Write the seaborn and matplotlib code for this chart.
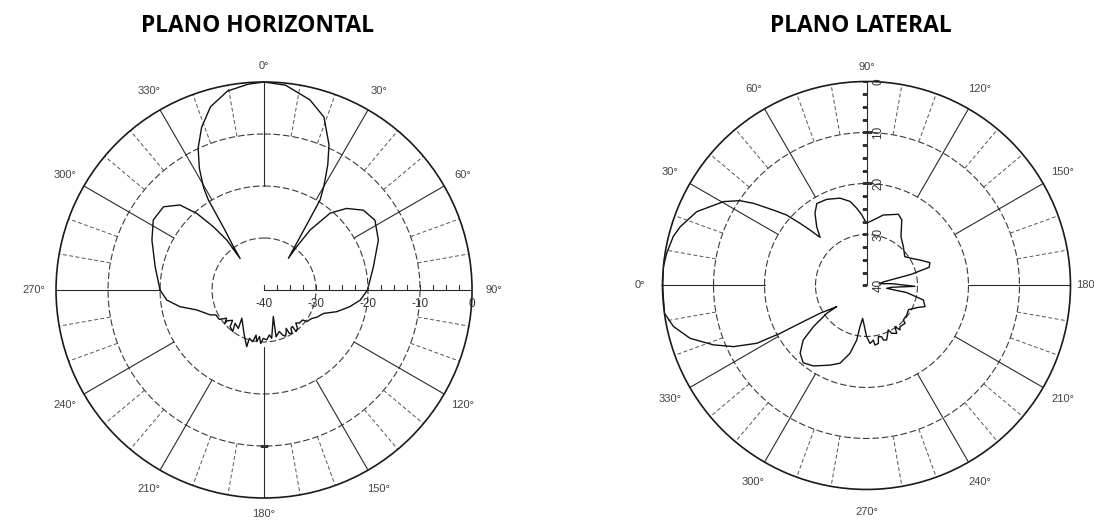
import numpy as np
import pandas as pd
import seaborn as sns
import matplotlib.pyplot as plt

# Horizontal plane: angle in degrees (0 at top, clockwise), level in dB
h_angle = [-90, -78, -66, -57.7, -50.4, -44.7, -41.3, -38.7, -36.7, -37.2,
           -35, -33, -31.7, -30.6, -28, -24.9, -21, -16.3, -10.4, -4.4, 0,
           6, 13.6, 19.1, 24.1, 27, 30, 31.9, 33.5, 37.5,
           37, 37.5, 40.7, 45.3, 51.2, 57.8, 66.4, 78, 90,
           96, 101, 106.6, 111.5, 117.4, 120.7, 126.6, 127.8, 133.3, 136, 139, 142.5,
           142, 145, 147, 149.7, 150, 152, 155, 157.5, 159.8, 165.6, 160.7, 171, 173.2, 177,
           180.8, 183.6, 185.5, 188.1, 190, 192.4, 196.9, 197, 204.8, 218.2, 213.8, 221,
           217, 222.8, 226, 230.1, 229.4, 233, 236.7, 242.5, 245.2, 253.5, 258.8, 264.1, 270]
h_db = [-20, -18.6, -16.4, -14.8, -14.9, -17, -20.4, -24.4, -28, -32.4,
        -29.5, -25.9, -19.6, -17.2, -13.5, -9.9, -6.5, -3.3, -1.1, -0.3, 0,
        -0.4, -2.4, -4.8, -9.4, -13, -17, -19.6, -26, -32.3,
        -29.6, -25.5, -20.5, -17.7, -15.5, -14.8, -16, -18.5, -20.1,
        -21.4, -23.2, -25.4, -27.7, -28.6, -29.3, -29.8, -30.6, -30.7, -31.2, -30.2, -29.9,
        -31.1, -31.0, -30.1, -30.3, -31.5, -30.9, -30.2, -30.6, -31.5, -30.7, -34.6, -30.6, -31.3, -30.4,
        -30.7, -29.7, -31.0, -30.0, -31.2, -29.8, -30.3, -28.6, -30.8, -33.1, -31.1, -31.5,
        -30.0, -30.4, -31.6, -30.8, -30.0, -31.0, -29.7, -29.6, -28.6, -26.5, -23.5, -21.2, -20]

# Lateral plane: angle in degrees (0 at left, clockwise), level in dB
l_angle = [-35.4, -30.9, -29.6, -29, -27.8, -24.7, -21.2, -16.7, -12, -7.8, 0,
           5.3, 9.1, 14.2, 17.5, 23.5, 30.4, 33.8, 36, 39, 41.4, 43.1, 44.5, 46,
           49.7, 54.5, 58.8, 65.2, 73.1, 78.9, 82.7, 86.1, 90,
           95.9, 103.4, 114.1, 118.3, 125.3, 133.5, 143, 150, 154.5, 160.2, 163.8,
           166, 168, 172, 176, 181, 184, 188, 190, 194.3, 199.9, 203, 210, 216.3,
           223.1, 224.5, 230.9, 233, 235.3, 237.8, 242.2, 243.9, 249.7, 252.8,
           253.5, 257, 258.4, 261.9, 262.9, 266.5, 270, 273, 276.7,
           279, 280.2, 283.7, 288.8, 294.7, 303.4, 309.3, 314.4, 319.2, 322.2, 325, 324.6]
l_db = [-32.8, -29.4, -25, -20.6, -15.7, -11.3, -7.8, -3.9, -1.3, 0, 0,
        0, -0.3, -0.9, -1.7, -3.7, -7.5, -10.1, -12.6, -16.5, -19.1, -22.2, -24.5, -26.9,
        -24.9, -22.6, -21.2, -21.4, -22.1, -23.2, -24.7, -26.1, -27.8,
        -27.1, -25.8, -24.7, -25.4, -28.3, -29.5, -30.6, -29.5, -28.4, -26.8, -27.2,
        -31, -36.5, -37.5, -35, -30.5, -35, -36, -32, -28.5, -27.8, -29, -30.5, -30.2,
        -30.1, -29.4, -29.6, -29.1, -30.2, -28.9, -29.4, -30.3, -28.6, -28.8,
        -29.5, -29.7, -28.4, -28.2, -29.2, -28.6, -30, -32, -33.5,
        -31.8, -29.1, -26.3, -23.9, -22.8, -21.1, -20.4, -21.4, -23.6, -26.8, -30.5, -32.8]

h_ticks = [0, 30, 60, 90, 120, 150, 180, 210, 240, 270, 300, 330]
h_tick_labels = ['0°', '30°', '60°', '90°', '120°', '150°', '180°', '210°', '240°', '270°', '300°', '330°']
l_ticks = [0, 30, 60, 90, 120, 150, 180, 210, 240, 270, 300, 330]
l_tick_labels = ['0°', '30°', '60°', '90°', '120°', '150°', '180', '210°', '240°', '270°', '300°', '330°']
rings = [-30, -20, -10]
h_scale = ['-40', '-30', '-20', '-10', '0']
l_scale = ['0', '10', '20', '30', '40']

sns.set_theme(style='white')
plt.rcParams['font.family'] = ['Liberation Sans', 'DejaVu Sans']

fig = plt.figure(figsize=(10.94, 5.29), dpi=100)
ax_h = fig.add_axes([0.0512, 0.0586, 0.3803, 0.7864], projection='polar')
ax_l = fig.add_axes([0.6056, 0.0747, 0.3729, 0.7713], projection='polar')


def base_grid(ax, zero, full_lines, inner_lines):
    ax.set_theta_zero_location(zero)
    ax.set_theta_direction(-1)
    ax.grid(False)
    ax.set_facecolor('white')
    th = np.radians(np.arange(0, 361))
    for r in rings:
        ax.plot(th, np.full(th.shape, r), color='#3a3a3a', lw=0.8, ls=(0, (6, 2.5)))
    for a in range(0, 360, 10):
        if a % 30:
            ax.plot(np.radians([a, a]), [-10, 0], color='#555555', lw=0.7, ls=(0, (4, 2.5)))
    for a in full_lines:
        ax.plot(np.radians([a, a]), [-20, 0], color='#2a2a2a', lw=0.8)
    for a, r0 in inner_lines:
        ax.plot(np.radians([a, a]), [r0, 0], color='#2a2a2a', lw=0.8)


base_grid(ax_h, 'N', [0, 30, 60, 120, 150, 210, 240, 270, 300, 330], [(180, -29), (90, -40)])
base_grid(ax_l, 'W', [0, 30, 60, 120, 150, 180, 210, 240, 300, 330], [(90, -40)])

df_h = pd.DataFrame({'theta': np.radians(h_angle), 'db': h_db})
df_l = pd.DataFrame({'theta': np.radians(l_angle), 'db': l_db})
sns.lineplot(data=df_h, x='theta', y='db', sort=False, estimator=None, ax=ax_h, color='#111111', lw=1.0)
sns.lineplot(data=df_l, x='theta', y='db', sort=False, estimator=None, ax=ax_l, color='#111111', lw=1.0)

for ax in (ax_h, ax_l):
    ax.set_ylim(-40, 0)
    ax.set_xticks([])
    ax.set_yticks([])
    ax.set_xlabel('')
    ax.set_ylabel('')
    ax.spines['polar'].set_color('#1a1a1a')
    ax.spines['polar'].set_linewidth(1.2)

# angle labels
for a, lab in zip(h_ticks, h_tick_labels):
    r = 3.0 if a in (0, 180) else 4.2
    ax_h.text(np.radians(a), r, lab, ha='center', va='center', fontsize=8, color='#444444')
for a, lab in zip(l_ticks, l_tick_labels):
    r = 2.9 if a in (90, 180) else 4.4
    ax_l.text(np.radians(a), r, lab, ha='center', va='center', fontsize=8, color='#444444')

# level scale on the horizontal plane (along 90 deg)
ax_h.plot(np.full(17, np.pi / 2), np.arange(-40, 0.1, 2.5), ls='none', marker=2, ms=3.5, mew=0.8,
          color='#333333')
ax_h.plot([np.pi, np.pi], [-10, -10], ls='none', marker='_', ms=6, mew=0.8, color='#333333')
for i, lab in enumerate(h_scale):
    ax_h.annotate(lab, xy=(np.pi / 2, -40 + 10 * i), xytext=(0, -14), textcoords='offset pixels',
                  ha='center', va='center', fontsize=8.5, color='#333333')

# level scale on the lateral plane (along 90 deg, rotated text)
ax_l.plot(np.full(17, np.pi / 2), np.arange(-40, 0.1, 2.5), ls='none', marker=0, ms=3.5, mew=0.8,
          color='#333333')
ax_l.plot([np.pi / 2] * 2, [-20, -10], ls='none', marker='_', ms=7, mew=0.8, color='#333333')
for i, lab in enumerate(l_scale):
    ax_l.annotate(lab, xy=(np.pi / 2, -10 * i), xytext=(12, 0), textcoords='offset pixels',
                  rotation=90, ha='center', va='center', fontsize=8.5, color='#333333')

fig.text(0.2358, 0.951, 'PLANO HORIZONTAL', fontsize=16.4, fontweight='bold', color='black',
         family=['Open Sans', 'DejaVu Sans'], ha='center', va='center')
fig.text(0.787, 0.951, 'PLANO LATERAL', fontsize=16.4, fontweight='bold', color='black',
         family=['Open Sans', 'DejaVu Sans'], ha='center', va='center')

fig.savefig('out.png', dpi=100, facecolor='white')
